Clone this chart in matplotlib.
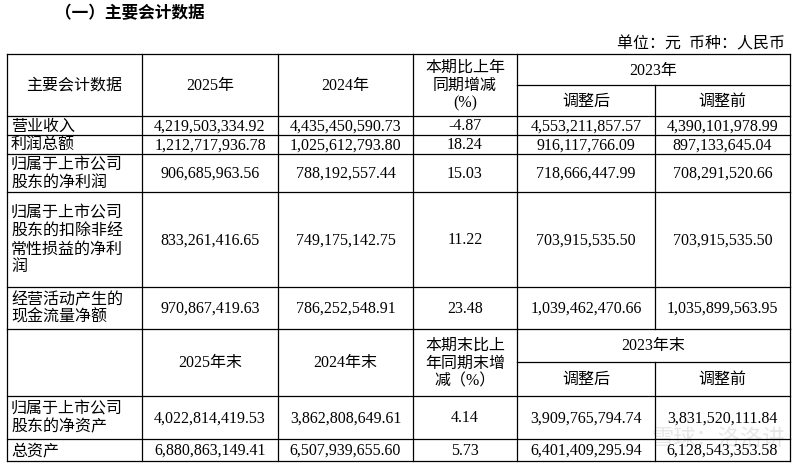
import matplotlib
matplotlib.use('Agg')
import matplotlib.pyplot as plt

plt.rcParams['font.family'] = ['Liberation Serif', 'Noto Sans CJK SC']

title = '（一）主要会计数据'
unit = '单位：元  币种：人民币'

items = ['营业收入', '利润总额', '归属于上市公司\n股东的净利润',
         '归属于上市公司\n股东的扣除非经\n常性损益的净利\n润', '经营活动产生的\n现金流量净额']
v2025 = ['4,219,503,334.92', '1,212,717,936.78', '906,685,963.56', '833,261,416.65', '970,867,419.63']
v2024 = ['4,435,450,590.73', '1,025,612,793.80', '788,192,557.44', '749,175,142.75', '786,252,548.91']
chg = ['-4.87', '18.24', '15.03', '11.22', '23.48']
v2023a = ['4,553,211,857.57', '916,117,766.09', '718,666,447.99', '703,915,535.50', '1,039,462,470.66']
v2023b = ['4,390,101,978.99', '897,133,645.04', '708,291,520.66', '703,915,535.50', '1,035,899,563.95']

items2 = ['归属于上市公司\n股东的净资产', '总资产']
e2025 = ['4,022,814,419.53', '6,880,863,149.41']
e2024 = ['3,862,808,649.61', '6,507,939,655.60']
chg2 = ['4.14', '5.73']
e2023a = ['3,909,765,794.74', '6,401,409,295.94']
e2023b = ['3,831,520,111.84', '6,128,543,353.58']

fig = plt.figure(figsize=(8, 4.64), dpi=100)
ax = fig.add_axes([0, 0, 1, 1])
ax.set_xlim(0, 800)
ax.set_ylim(464, 0)
ax.axis('off')

cols = [7, 142, 278, 413, 517, 655, 790]
lw = 0.9

def hline(y, x0=cols[0], x1=cols[-1]):
    ax.plot([x0, x1], [y, y], color='black', lw=lw)

def vline(x, y0, y1):
    ax.plot([x, x], [y0, y1], color='black', lw=lw)

def txt(x, y, s, ha='center', size=11.5, **kw):
    ax.text(x, y, s, ha=ha, va='center', fontsize=size, linespacing=1.15, **kw)

def mid(i):
    return (cols[i] + cols[i + 1]) / 2

txt(55, 14, title, ha='left', size=12, fontweight='bold')
ax.text(cols[-1] - 5, 44, unit, ha='right', va='center', fontsize=11.5)

# first block
top, sub, hb = 55, 86, 117
rows = [hb, 136, 155, 193, 288, 330]
hline(top)
hline(sub, cols[4], cols[6])
for y in rows:
    hline(y)
for x in cols:
    if x == cols[5]:
        vline(x, sub, rows[-1])
    else:
        vline(x, top, rows[-1])
txt(mid(0), (top + hb) / 2, '主要会计数据')
txt(mid(1), (top + hb) / 2, '2025年')
txt(mid(2), (top + hb) / 2, '2024年')
txt(mid(3), (top + hb) / 2, '本期比上年\n同期增减\n(%)')
txt((cols[4] + cols[6]) / 2, (top + sub) / 2, '2023年')
txt(mid(4), (sub + hb) / 2, '调整后')
txt(mid(5), (sub + hb) / 2, '调整前')
for i in range(len(items)):
    yc = (rows[i] + rows[i + 1]) / 2
    txt(cols[0] + 4, yc, items[i], ha='left')
    for j, arr in enumerate([v2025, v2024, chg, v2023a, v2023b]):
        txt(mid(j + 1), yc, arr[i])

# second block
top2, sub2, hb2 = 330, 363, 397
rows2 = [hb2, 440, 462]
hline(sub2, cols[4], cols[6])
for y in rows2:
    hline(y)
for x in cols:
    if x == cols[5]:
        vline(x, sub2, rows2[-1])
    else:
        vline(x, top2, rows2[-1])
txt(mid(1), (top2 + hb2) / 2, '2025年末')
txt(mid(2), (top2 + hb2) / 2, '2024年末')
txt(mid(3), (top2 + hb2) / 2, '本期末比上\n年同期末增\n减（%）')
txt((cols[4] + cols[6]) / 2, (top2 + sub2) / 2, '2023年末')
txt(mid(4), (sub2 + hb2) / 2, '调整后')
txt(mid(5), (sub2 + hb2) / 2, '调整前')
for i in range(len(items2)):
    yc = (rows2[i] + rows2[i + 1]) / 2
    txt(cols[0] + 4, yc, items2[i], ha='left')
    for j, arr in enumerate([e2025, e2024, chg2, e2023a, e2023b]):
        txt(mid(j + 1), yc, arr[i])

# faint watermark
ax.text(785, 440, '雪球：洛洛讲', ha='right', va='center', fontsize=16,
        color='#d0d0d0', alpha=0.5, zorder=0)

fig.savefig('out.png', dpi=100)
